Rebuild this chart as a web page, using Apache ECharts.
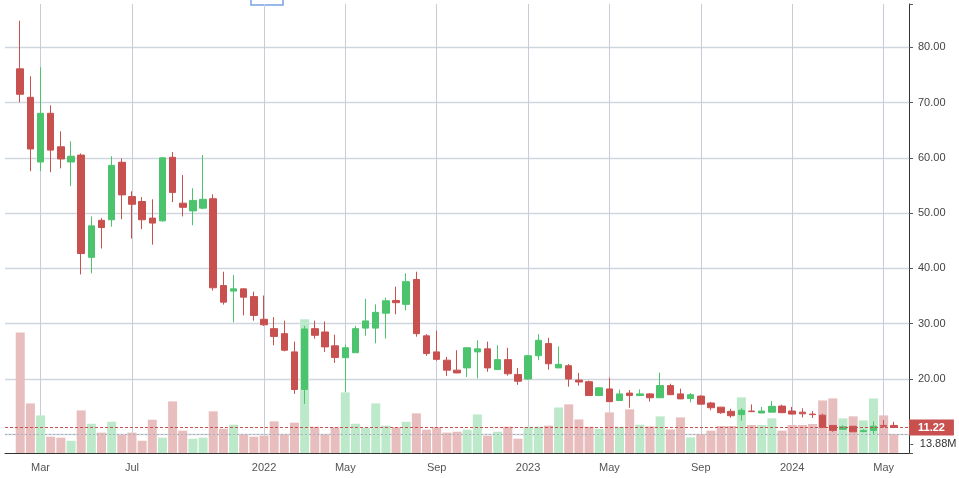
<!DOCTYPE html>
<html>
<head>
<meta charset="utf-8">
<script src="https://cdn.jsdelivr.net/npm/echarts@6/dist/echarts.min.js"></script>
<style>
html, body { margin: 0; padding: 0; background: #fff; }
#chart { width: 959px; height: 478px; }
</style>
</head>
<body>
<div id="chart"></div>
<script>
// two-week bars, Feb 2021 - May 2024
var openP  = [76.1,70.95,59.25,68.06,62.0,59.25,60.5,42.0,48.7,48.8,59.2,53.0,52.1,49.1,48.6,60.1,51.8,50.4,50.9,52.6,
              36.9,35.9,36.3,34.9,30.8,29.1,28.2,24.9,18.1,29.1,28.5,26.0,23.85,24.75,29.2,29.2,31.9,34.2,33.5,38.0,
              27.8,24.9,23.4,21.6,22.0,24.9,25.45,21.7,23.5,20.8,20.0,24.2,26.4,22.0,22.4,19.8,19.5,17.0,18.2,16.1,
              17.45,17.0,17.3,16.6,18.8,17.3,16.45,16.9,15.65,14.9,14.15,13.55,14.2,13.85,14.0,15.1,14.2,14.0,13.65,13.45,
              11.6,10.9,11.45,10.5,10.7,11.6,11.6];
var closeP = [71.5,61.6,68.06,61.4,59.8,60.3,42.7,47.7,47.4,58.65,53.3,51.6,48.8,48.2,60.0,53.75,51.05,52.3,52.5,36.5,
              33.9,36.3,34.8,31.5,29.8,27.7,25.2,18.1,29.05,27.9,25.8,23.9,25.65,29.1,30.5,32.05,34.15,33.8,37.6,28.2,
              24.6,23.55,21.6,21.1,25.65,25.45,22.0,23.5,20.95,19.6,24.2,27.0,22.75,22.65,20.0,19.45,17.0,18.4,15.9,17.3,
              17.0,17.3,16.6,18.8,17.15,16.4,17.15,15.45,14.8,13.9,13.35,14.35,14.1,14.2,15.05,13.9,13.65,13.7,13.55,11.25,
              10.7,11.35,10.45,10.65,11.45,11.45,11.22];
var lowP   = [70.05,57.6,57.6,57.4,58.1,54.9,38.9,39.1,43.6,47.55,48.9,45.4,47.1,44.3,48.45,52.0,49.4,47.8,50.7,36.0,
              33.45,30.25,31.5,30.55,29.6,26.1,25.0,17.3,15.5,27.3,24.9,22.9,17.7,24.75,27.8,26.45,27.3,31.7,32.4,27.65,
              24.2,23.3,20.55,21.05,20.35,20.1,21.3,21.7,20.6,18.95,19.9,23.4,21.7,22.0,18.6,18.8,17.0,17.0,15.85,16.1,
              14.8,17.0,15.9,16.6,17.1,16.35,15.8,15.4,14.35,13.7,13.0,12.45,14.0,13.8,14.0,13.9,13.6,13.05,12.95,11.2,
              10.45,10.85,10.45,10.35,10.05,11.2,11.2];
var highP  = [84.8,74.75,76.4,69.5,64.8,63.0,60.8,49.4,49.1,60.3,59.9,53.95,52.9,52.5,60.1,61.05,56.9,54.5,60.5,53.4,
              39.4,38.8,36.4,35.8,35.1,31.2,30.55,26.75,29.6,30.55,30.4,28.0,26.2,29.6,34.5,33.5,34.7,36.7,39.1,39.4,
              28.1,28.75,24.0,25.2,25.7,27.0,26.75,26.1,25.65,22.0,24.35,28.1,27.45,25.9,22.7,21.1,19.7,18.5,20.25,18.05,
              18.0,18.1,17.45,21.15,19.15,18.25,17.45,17.05,15.85,14.95,14.6,14.7,15.4,14.95,16.0,15.35,14.95,14.7,14.2,13.7,
              11.6,11.6,11.45,10.9,12.35,12.6,12.25];
// volume, millions
var volume = [89.5,36.8,27.9,12.1,11.4,9.1,31.6,21.7,15.1,23.2,13.6,15.1,9.1,24.7,11.4,38.3,16.6,10.6,11.4,30.9,
              18.0,21.0,13.8,12.1,12.8,23.5,13.8,22.5,99.2,19.5,13.6,19.1,45.0,21.7,18.8,36.8,20.3,19.1,23.2,29.4,
              17.3,19.1,15.1,15.8,17.3,28.6,12.8,15.8,19.5,10.6,19.5,19.5,20.3,33.8,36.1,24.9,19.5,18.0,30.1,19.5,
              32.4,21.0,19.7,27.2,17.5,26.4,11.6,13.9,16.6,20.0,20.0,41.3,20.8,20.8,25.7,16.6,20.8,20.8,21.5,39.0,
              40.5,25.7,27.2,24.2,40.5,27.9,13.88];

var tickIdx  = [2, 11, 24, 32, 41, 50, 58, 67, 76, 85];
var tickText = ['Mar', 'Jul', '2022', 'May', 'Sep', '2023', 'May', 'Sep', '2024', 'May'];

var lastPrice = 11.22;
var lastVolume = 13.88;

var upColor = '#4cc46e';
var downColor = '#c85150';
var upVolColor = '#bde9cb';
var downVolColor = '#e8bdbd';

// categories: one empty slot before and after the bars
var cats = [''];
var d = new Date(Date.UTC(2021, 1, 1));
for (var i = 0; i < openP.length; i++) {
    cats.push(d.toISOString().slice(0, 10));
    d = new Date(d.getTime() + 14 * 86400000);
}
cats.push('');

var tickMap = {};
tickIdx.forEach(function (t, i) { tickMap[t + 1] = tickText[i]; });
var showTick = function (index) { return tickMap[index] !== undefined; };

var candleData = [['-', '-', '-', '-']];
var volData = ['-'];
for (var i = 0; i < openP.length; i++) {
    candleData.push([openP[i], closeP[i], lowP[i], highP[i]]);
    volData.push({
        value: volume[i],
        itemStyle: { color: closeP[i] >= openP[i] ? upVolColor : downVolColor }
    });
}
candleData.push(['-', '-', '-', '-']);
volData.push('-');

var chart = echarts.init(document.getElementById('chart'));

var option = {
    animation: false,
    textStyle: { fontFamily: 'Liberation Sans, Arial, sans-serif' },
    grid: { left: 5, right: 50, top: 4, bottom: 25 },
    xAxis: {
        type: 'category',
        data: cats,
        boundaryGap: true,
        axisLine: { lineStyle: { color: '#333', width: 1 } },
        axisTick: { show: false },
        axisLabel: {
            interval: showTick,
            formatter: function (v, i) { return tickMap[i] || ''; },
            color: '#555',
            fontSize: 11,
            margin: 9
        },
        splitLine: {
            show: true,
            interval: showTick,
            alignWithLabel: true,
            lineStyle: { color: '#c6cdd9', width: 1 }
        }
    },
    yAxis: [
        {
            type: 'value',
            position: 'right',
            min: 6.61,
            max: 87.83,
            splitNumber: 8,
            axisLine: { show: true, lineStyle: { color: '#333' } },
            axisTick: { show: true, length: 4, lineStyle: { color: '#555' } },
            axisLabel: {
                color: '#444',
                fontSize: 11,
                margin: 9,
                formatter: function (v) {
                    if (v < 15 || Math.abs(v % 10) > 0.001) return '';
                    return v.toFixed(2);
                }
            },
            splitLine: {
                show: true,
                showMinLine: false,
                showMaxLine: false,
                lineStyle: { color: '#d0d6e0', width: 1.3 }
            }
        },
        {
            type: 'value',
            min: 0,
            max: 333.2,
            show: false,
            splitLine: { show: false }
        }
    ],
    graphic: [
        {
            type: 'rect',
            shape: { x: 251, y: -3, width: 32, height: 8 },
            style: { fill: 'none', stroke: '#78a2e6', lineWidth: 1.5 }
        }
    ],
    series: [
        {
            name: 'Volume',
            type: 'bar',
            yAxisIndex: 1,
            barWidth: 9,
            data: volData,
            markLine: {
                silent: true,
                symbol: 'none',
                lineStyle: { color: '#a8afbd', type: [2, 2], width: 1 },
                label: {
                    position: 'end',
                    distance: 1,
                    formatter: '{gap| }\n{v|-  ' + lastVolume.toFixed(2) + 'M}',
                    rich: {
                        gap: { lineHeight: 20, fontSize: 11 },
                        v: { lineHeight: 20, fontSize: 11, color: '#333' }
                    },
                    color: '#333',
                    fontSize: 11
                },
                data: [{ yAxis: lastVolume }]
            }
        },
        {
            name: 'Price',
            type: 'candlestick',
            yAxisIndex: 0,
            barWidth: 7,
            data: candleData,
            itemStyle: {
                color: upColor,
                color0: downColor,
                borderColor: upColor,
                borderColor0: downColor,
                borderWidth: 1
            },
            markLine: {
                silent: true,
                symbol: 'none',
                lineStyle: { color: downColor, type: [3, 2], width: 1 },
                label: {
                    position: 'end',
                    distance: 0,
                    formatter: lastPrice.toFixed(2),
                    color: '#fff',
                    fontWeight: 'bold',
                    fontSize: 11,
                    backgroundColor: downColor,
                    padding: [3, 9, 2, 9]
                },
                data: [{ yAxis: lastPrice }]
            }
        }
    ]
};

chart.setOption(option);
</script>
</body>
</html>
